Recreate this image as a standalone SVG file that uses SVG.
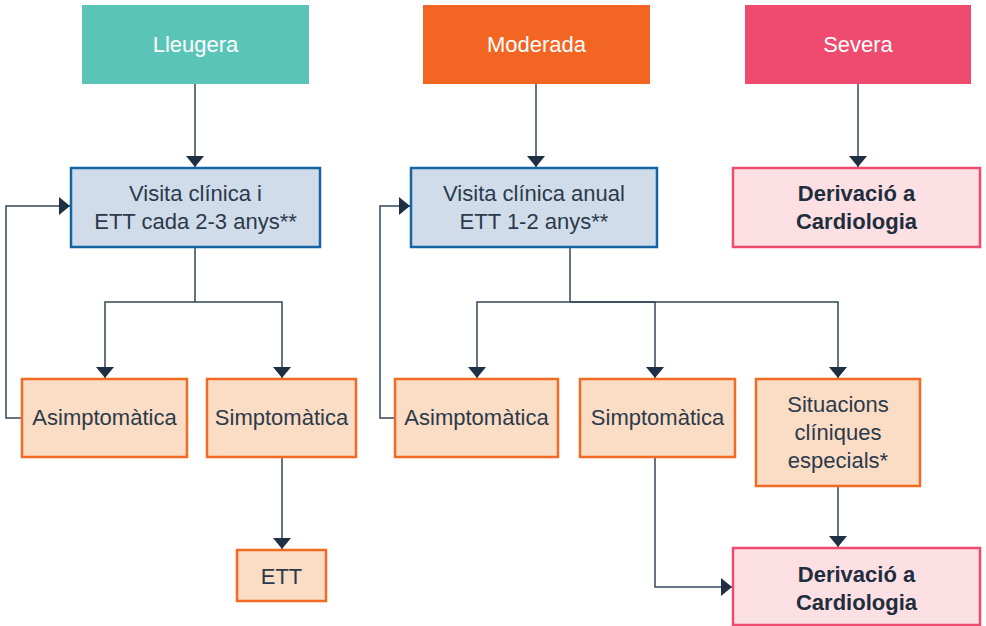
<svg xmlns="http://www.w3.org/2000/svg" width="986" height="626" viewBox="0 0 986 626">
<defs>
<marker id="ah" viewBox="0 0 10 10" refX="10" refY="5" markerWidth="11" markerHeight="18" markerUnits="userSpaceOnUse" orient="auto" preserveAspectRatio="none">
<path d="M0,0 L10,5 L0,10 z" fill="#1F3044"/>
</marker>
<style>
.t{font-family:"Liberation Sans",Arial,sans-serif;font-size:22px;text-anchor:middle;fill:#2B3A4A}
.w{fill:#ffffff}
.b{font-weight:bold;fill:#1F2D3D}
.vis{fill:#D0DCEA;stroke:#1565A5;stroke-width:2.5}
.or{fill:#FBDCC4;stroke:#F26B22;stroke-width:2.5}
.dv{fill:#FDE0E3;stroke:#EE4B6E;stroke-width:2.5}
.c{fill:none;stroke:#34465A;stroke-width:1.5}
.ca{fill:none;stroke:#34465A;stroke-width:1.5;marker-end:url(#ah)}
</style>
</defs>
<rect width="986" height="626" fill="#ffffff"/>
<g id="connectors">
<path class="ca" d="M195,84 V167"/>
<path class="ca" d="M536,84 V167"/>
<path class="ca" d="M858,84 V167"/>
<path class="c" d="M195,247 V302"/>
<path class="ca" d="M195,302 H105 V378"/>
<path class="ca" d="M195,302 H282 V378"/>
<path class="ca" d="M282,457 V549"/>
<path class="ca" d="M22,418 H6 V206 H70"/>
<path class="c" d="M570,247 V302"/>
<path class="ca" d="M570,302 H477 V378"/>
<path class="ca" d="M570,302 H655 V378"/>
<path class="ca" d="M570,302 H838 V378"/>
<path class="ca" d="M395,418 H380 V206 H410"/>
<path class="ca" d="M655,457 V587 H732"/>
<path class="ca" d="M838,486 V547"/>
</g>
<g id="lleugera">
<rect x="82" y="5" width="227" height="79" fill="#5BC4B9"/>
<text class="t w" x="195.5" y="52">Lleugera</text>
</g>
<g id="moderada">
<rect x="423" y="5" width="227" height="79" fill="#F26522"/>
<text class="t w" x="536.5" y="52">Moderada</text>
</g>
<g id="severa">
<rect x="745" y="5" width="226" height="79" fill="#EE4B6E"/>
<text class="t w" x="858" y="52">Severa</text>
</g>
<g id="visita1">
<rect class="vis" x="71" y="168" width="249" height="79"/>
<text class="t" x="195.5" y="201">Visita clínica i</text>
<text class="t" x="195.5" y="229">ETT cada 2-3 anys**</text>
</g>
<g id="visita2">
<rect class="vis" x="411" y="168" width="246" height="79"/>
<text class="t" x="534" y="201">Visita clínica anual</text>
<text class="t" x="534" y="229">ETT 1-2 anys**</text>
</g>
<g id="derivacio1">
<rect class="dv" x="733" y="168" width="247" height="79"/>
<text class="t b" x="856.5" y="201">Derivació a</text>
<text class="t b" x="856.5" y="229">Cardiologia</text>
</g>
<g id="asimp1">
<rect class="or" x="22" y="379" width="165" height="78"/>
<text class="t" x="104.5" y="425">Asimptomàtica</text>
</g>
<g id="simp1">
<rect class="or" x="207" y="379" width="149" height="78"/>
<text class="t" x="281.5" y="425">Simptomàtica</text>
</g>
<g id="ett">
<rect class="or" x="237" y="550" width="89" height="51"/>
<text class="t" x="281.5" y="584">ETT</text>
</g>
<g id="asimp2">
<rect class="or" x="395" y="379" width="163" height="78"/>
<text class="t" x="476.5" y="425">Asimptomàtica</text>
</g>
<g id="simp2">
<rect class="or" x="580" y="379" width="155" height="78"/>
<text class="t" x="657.5" y="425">Simptomàtica</text>
</g>
<g id="situacions">
<rect class="or" x="756" y="379" width="164" height="107"/>
<text class="t" x="838" y="412">Situacions</text>
<text class="t" x="838" y="440">clíniques</text>
<text class="t" x="838" y="468">especials*</text>
</g>
<g id="derivacio2">
<rect class="dv" x="733" y="548" width="247" height="77"/>
<text class="t b" x="856.5" y="582">Derivació a</text>
<text class="t b" x="856.5" y="610">Cardiologia</text>
</g>
</svg>
